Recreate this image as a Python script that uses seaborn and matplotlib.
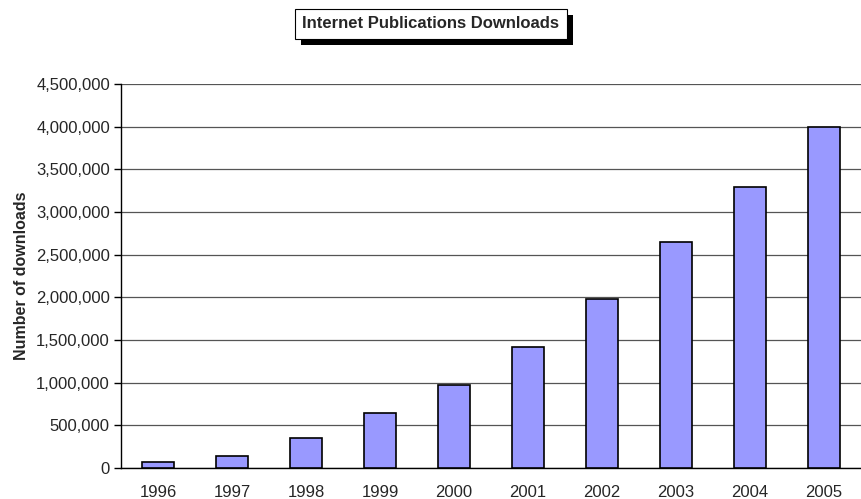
import matplotlib

matplotlib.use("Agg")
import matplotlib.pyplot as plt
import matplotlib.patheffects as pe
import numpy as np
import pandas as pd
import seaborn as sns
from matplotlib.ticker import FuncFormatter, FixedLocator

years = ["1996", "1997", "1998", "1999", "2000", "2001", "2002", "2003", "2004", "2005"]
downloads = [72000, 146000, 348000, 650000, 970000, 1418000, 1985000, 2650000, 3293000, 4000000]
y_ticks = list(range(0, 4500001, 500000))

df = pd.DataFrame({"year": years, "downloads": downloads})

sns.set_style("white")
plt.rcParams["font.family"] = ["Liberation Sans", "DejaVu Sans"]

fig = plt.figure(figsize=(8.61, 4.99), dpi=100)
ax = fig.add_axes([121 / 861, 1 - 468 / 499, 740 / 861, 384 / 499])

sns.barplot(data=df, x="year", y="downloads", color="#9999FF", saturation=1,
            edgecolor="black", linewidth=1.2, width=0.42, ax=ax, zorder=3)

ax.set_ylim(0, 4500000)
ax.set_xlim(-0.5, len(years) - 0.5)
ax.set_yticks(y_ticks)
ax.yaxis.set_major_formatter(FuncFormatter(lambda v, _: f"{int(v):,}"))
ax.yaxis.grid(True, color="#555555", linewidth=0.9, zorder=0)
ax.set_axisbelow(True)

ax.xaxis.set_minor_locator(FixedLocator(np.arange(-0.5, len(years), 1.0)))
ax.tick_params(axis="x", which="major", length=0, pad=12, labelsize=12)
ax.tick_params(axis="x", which="minor", length=5, width=1, color="black", direction="out")
ax.tick_params(axis="y", length=5, width=1, color="black", direction="out", labelsize=12, left=True, pad=3)

for side in ("top", "right"):
    ax.spines[side].set_visible(False)
for side in ("left", "bottom"):
    ax.spines[side].set_color("black")
    ax.spines[side].set_linewidth(1)

ax.set_xlabel("")
ax.set_ylabel("Number of downloads", fontsize=11.5, fontweight="bold", labelpad=5)

title = fig.text(431 / 861, 1 - 24 / 499, "Internet Publications Downloads", ha="center", va="center",
                 fontsize=12, fontweight="bold",
                 bbox=dict(boxstyle="square,pad=0.45", facecolor="white", edgecolor="black", linewidth=0.8))
title.get_bbox_patch().set_path_effects([
    pe.SimplePatchShadow(offset=(4, -4), shadow_rgbFace="black", alpha=1.0),
    pe.Normal(),
])

fig.savefig("out.png", dpi=100)
plt.close(fig)
